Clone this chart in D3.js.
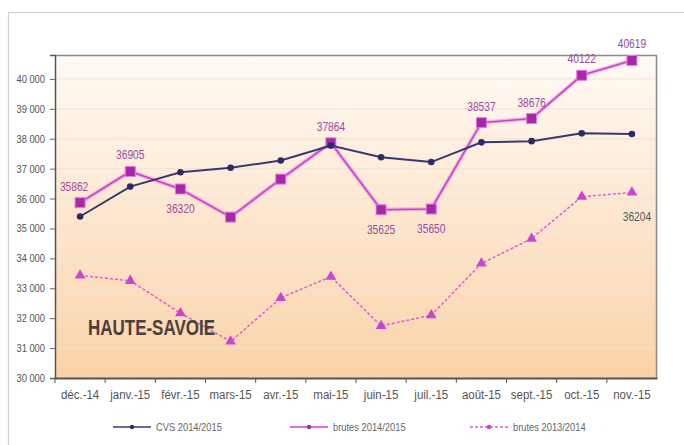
<!DOCTYPE html>
<html lang="fr">
<head>
<meta charset="utf-8">
<script src="https://d3js.org/d3.v7.min.js"></script>
<style>
  body { margin: 0; background: #ffffff; }
  text { font-family: "Liberation Sans", Arial, sans-serif; }
</style>
</head>
<body>
<div id="chart"></div>
<script>
// categories and series
var months = ["déc.-14", "janv.-15", "févr.-15", "mars-15", "avr.-15", "mai-15",
              "juin-15", "juil.-15", "août-15", "sept.-15", "oct.-15", "nov.-15"];
var cvs1415 = [35400, 36400, 36880, 37030, 37270, 37770, 37380, 37220, 37880, 37920, 38180, 38160];
var brutes1415 = [35862, 36905, 36320, 35380, 36650, 37864, 35625, 35650, 38537, 38676, 40122, 40619];
var brutes1314 = [33430, 33250, 32170, 31220, 32680, 33390, 31740, 32100, 33830, 34660, 36060, 36204];
var yTicks = [30000, 31000, 32000, 33000, 34000, 35000, 36000, 37000, 38000, 39000, 40000];
var legendNames = ["CVS 2014/2015", "brutes 2014/2015", "brutes 2013/2014"];
// which brutes 2014/2015 values get a label, and where (1 = above, -1 = below)
var labelSide = [1, 1, -1, 0, 0, 1, -1, -1, 1, 1, 1, 1];

var W = 684, H = 445;
var margin = {top: 55, right: 27, bottom: 67, left: 55};
var width = W - margin.left - margin.right,
    height = H - margin.top - margin.bottom;

// squeeze text horizontally, the source font is a narrow one
function narrow(sel, k) {
  sel.each(function() {
    var t = d3.select(this);
    var bx = +t.attr("x") || 0;
    t.attr("transform", "translate(" + bx + ",0) scale(" + k + ",1) translate(" + (-bx) + ",0)");
  });
}

var svg = d3.select("#chart").append("svg")
    .attr("width", W).attr("height", H);

// outer frame
svg.append("path")
    .attr("d", "M8.5," + H + "V12.5H" + W)
    .attr("fill", "none").attr("stroke", "#cfcfcf").attr("stroke-width", 1.2);

var defs = svg.append("defs");
var grad = defs.append("linearGradient").attr("id", "bg")
    .attr("x1", 0).attr("y1", 0).attr("x2", 0).attr("y2", 1);
grad.append("stop").attr("offset", "0%").attr("stop-color", "#fffbf6");
grad.append("stop").attr("offset", "100%").attr("stop-color", "#fbd2a8");

var g = svg.append("g")
    .attr("transform", "translate(" + margin.left + "," + margin.top + ")");

var x = d3.scaleBand().domain(months).range([0, width]);
var y = d3.scaleLinear().domain([30000, 40800]).range([height, 0]);
var cx = function(d, i) { return x(months[i]) + x.bandwidth() / 2; };

g.append("rect").attr("width", width).attr("height", height).attr("fill", "url(#bg)");

// gridlines
g.selectAll(".grid").data(yTicks.slice(1)).enter().append("line")
    .attr("x1", 0).attr("x2", width)
    .attr("y1", function(d) { return y(d); }).attr("y2", function(d) { return y(d); })
    .attr("stroke", "#efe2cf").attr("stroke-width", 1);

// plot border top / right
g.append("path").attr("d", "M0,0.5H" + (width - 0.5) + "V" + height)
    .attr("fill", "none").attr("stroke", "#8a8a8a").attr("stroke-width", 1.5);

// axes
var yAxis = g.append("g")
    .call(d3.axisLeft(y).tickValues(yTicks).tickSize(5)
      .tickFormat(function(d) { return d3.format(",")(d).replace(",", " "); }));
yAxis.select(".domain").attr("stroke", "#555").attr("stroke-width", 1.5);
yAxis.selectAll(".tick line").attr("stroke", "#666");
yAxis.selectAll("text").attr("fill", "#555").style("font-size", "11px").attr("x", -10)
    .call(narrow, 0.85);

var xAxis = g.append("g").attr("transform", "translate(0," + height + ")")
    .call(d3.axisBottom(x).tickSize(0).tickPadding(12));
xAxis.select(".domain").attr("stroke", "#555").attr("stroke-width", 2);
xAxis.selectAll("text").attr("fill", "#555").style("font-size", "12.5px")
    .call(narrow, 0.92);
xAxis.selectAll(".sep").data(months).enter().append("line")
    .attr("x1", function(d) { return x(d); }).attr("x2", function(d) { return x(d); })
    .attr("y1", 0).attr("y2", 5).attr("stroke", "#555");

var line = d3.line().x(cx).y(function(d) { return y(d); });

// brutes 2013/2014 dashed
g.append("path").datum(brutes1314).attr("d", line)
    .attr("fill", "none").attr("stroke", "#dc5cdc").attr("stroke-width", 1.5)
    .attr("stroke-dasharray", "3,2");
g.selectAll(".tri").data(brutes1314).enter().append("path")
    .attr("d", d3.symbol().type(d3.symbolTriangle).size(50))
    .attr("transform", function(d, i) { return "translate(" + cx(d, i) + "," + y(d) + ")"; })
    .attr("fill", "#cc44cc");

// brutes 2014/2015
g.append("path").datum(brutes1415).attr("d", line)
    .attr("fill", "none").attr("stroke", "#e070e0").attr("stroke-width", 4).attr("opacity", 0.45);
g.append("path").datum(brutes1415).attr("d", line)
    .attr("fill", "none").attr("stroke", "#cc40cc").attr("stroke-width", 1.6);
g.selectAll(".sq").data(brutes1415).enter().append("rect")
    .attr("x", function(d, i) { return cx(d, i) - 5; })
    .attr("y", function(d) { return y(d) - 5; })
    .attr("width", 10).attr("height", 10)
    .attr("fill", "#a428a8").attr("stroke", "#e27ae2").attr("stroke-width", 1);

// CVS 2014/2015
g.append("path").datum(cvs1415).attr("d", line)
    .attr("fill", "none").attr("stroke", "#383870").attr("stroke-width", 2);
g.selectAll(".dot").data(cvs1415).enter().append("circle")
    .attr("cx", cx).attr("cy", function(d) { return y(d); }).attr("r", 3.3)
    .attr("fill", "#2c2c64");

// value labels
var labelled = brutes1415.map(function(v, i) { return {v: v, i: i}; })
    .filter(function(d) { return labelSide[d.i] !== 0; });
g.selectAll(".lbl").data(labelled).enter().append("text")
    .attr("x", function(d) { return cx(d.v, d.i) - (d.i === 0 ? 6 : 0); })
    .attr("y", function(d) { return labelSide[d.i] > 0 ? y(d.v) - 12 : y(d.v) + 24; })
    .attr("text-anchor", "middle")
    .attr("fill", "#9c4a9c").style("font-size", "12px")
    .text(function(d) { return d.v; })
    .call(narrow, 0.85);
g.append("text").datum(brutes1314[11])
    .attr("x", cx(0, 11) + 5).attr("y", function(d) { return y(d) + 29; })
    .attr("text-anchor", "middle").attr("fill", "#555")
    .style("font-size", "12px").text(function(d) { return d; })
    .call(narrow, 0.85);

// region title
g.append("text").attr("x", 33).attr("y", y(31450))
    .attr("fill", "#4a3f3a").style("font-size", "22px").style("font-weight", "bold")
    .attr("textLength", 127).attr("lengthAdjust", "spacingAndGlyphs")
    .text("HAUTE-SAVOIE");

// legend
var legX = [113, 290, 470];
var leg = svg.selectAll(".leg").data(legendNames).enter().append("g")
    .attr("transform", function(d, i) { return "translate(" + legX[i] + ",427)"; });
leg.append("line").attr("x1", 0).attr("x2", 38)
    .attr("stroke", function(d, i) { return ["#383870", "#cc40cc", "#dc5cdc"][i]; })
    .attr("stroke-width", 1.5)
    .attr("stroke-dasharray", function(d, i) { return i === 2 ? "3,2" : null; });
leg.append("circle").attr("cx", 19).attr("r", 2.2)
    .attr("fill", function(d, i) { return ["#2c2c64", "#a428a8", "#cc44cc"][i]; });
leg.append("text").attr("x", 43).attr("y", 4)
    .attr("fill", "#666").style("font-size", "11px")
    .text(function(d) { return d; })
    .call(narrow, 0.85);
</script>
</body>
</html>
